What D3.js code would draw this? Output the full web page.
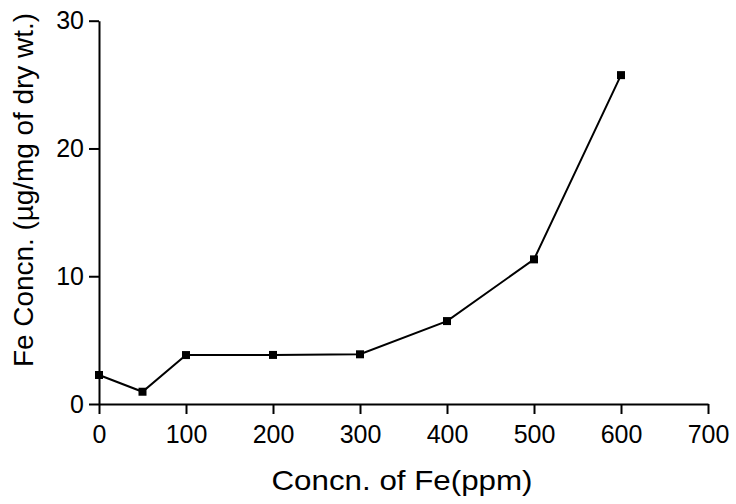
<!DOCTYPE html>
<html><head><meta charset="utf-8">
<script src="https://cdn.jsdelivr.net/npm/d3@7"></script>
<style>body{margin:0;background:#fff}svg{display:block}</style>
</head><body>
<svg id="c" width="736" height="504"></svg>
<script>
const xValues = [0, 50, 100, 200, 300, 400, 500, 600];
const yValues = [2.27, 0.96, 3.83, 3.84, 3.89, 6.49, 11.32, 25.74];
const xTicks = [0, 100, 200, 300, 400, 500, 600, 700];
const yTicks = [0, 10, 20, 30];
const xTitle = "Concn. of Fe(ppm)";
const yTitle = "Fe Concn. (\u00b5g/mg of dry wt.)";

const svg = d3.select("#c");
const font = "'Liberation Sans', Arial, sans-serif";
const x = d3.scaleLinear().domain([0, 700]).range([99, 708]);
const y = d3.scaleLinear().domain([0, 30]).range([404, 20.7]);

const gx = svg.append("g").attr("transform", "translate(0,404)")
  .call(d3.axisBottom(x).tickValues(xTicks).tickSize(10).tickPadding(6).tickSizeOuter(0));
const gy = svg.append("g").attr("transform", "translate(99,0)")
  .call(d3.axisLeft(y).tickValues(yTicks).tickSize(10).tickPadding(5).tickSizeOuter(0));
[gx, gy].forEach(g => {
  g.select(".domain").attr("stroke", "#000").attr("stroke-width", 2);
  g.selectAll(".tick line").attr("stroke", "#000").attr("stroke-width", 2);
  g.selectAll(".tick text").attr("fill", "#000").style("font-family", font).style("font-size", "25px");
});
gx.selectAll(".tick text").attr("dy", null).attr("y", 39);

const line = d3.line().x((d, i) => x(xValues[i])).y(d => y(d));
svg.append("path").datum(yValues).attr("d", line)
  .attr("fill", "none").attr("stroke", "#000").attr("stroke-width", 2);
svg.selectAll("rect.m").data(yValues).enter().append("rect").attr("class", "m")
  .attr("x", (d, i) => x(xValues[i]) - 4).attr("y", d => y(d) - 4)
  .attr("width", 8).attr("height", 8).attr("fill", "#000");

svg.append("text").attr("x", 402).attr("y", 490).attr("text-anchor", "middle")
  .attr("textLength", 261).attr("lengthAdjust", "spacingAndGlyphs")
  .style("font-family", font).style("font-size", "28px").text(xTitle);
svg.append("text").attr("transform", "translate(33,190) rotate(-90)").attr("text-anchor", "middle")
  .attr("textLength", 354).attr("lengthAdjust", "spacingAndGlyphs")
  .style("font-family", font).style("font-size", "28px").text(yTitle);
</script>
</body></html>
